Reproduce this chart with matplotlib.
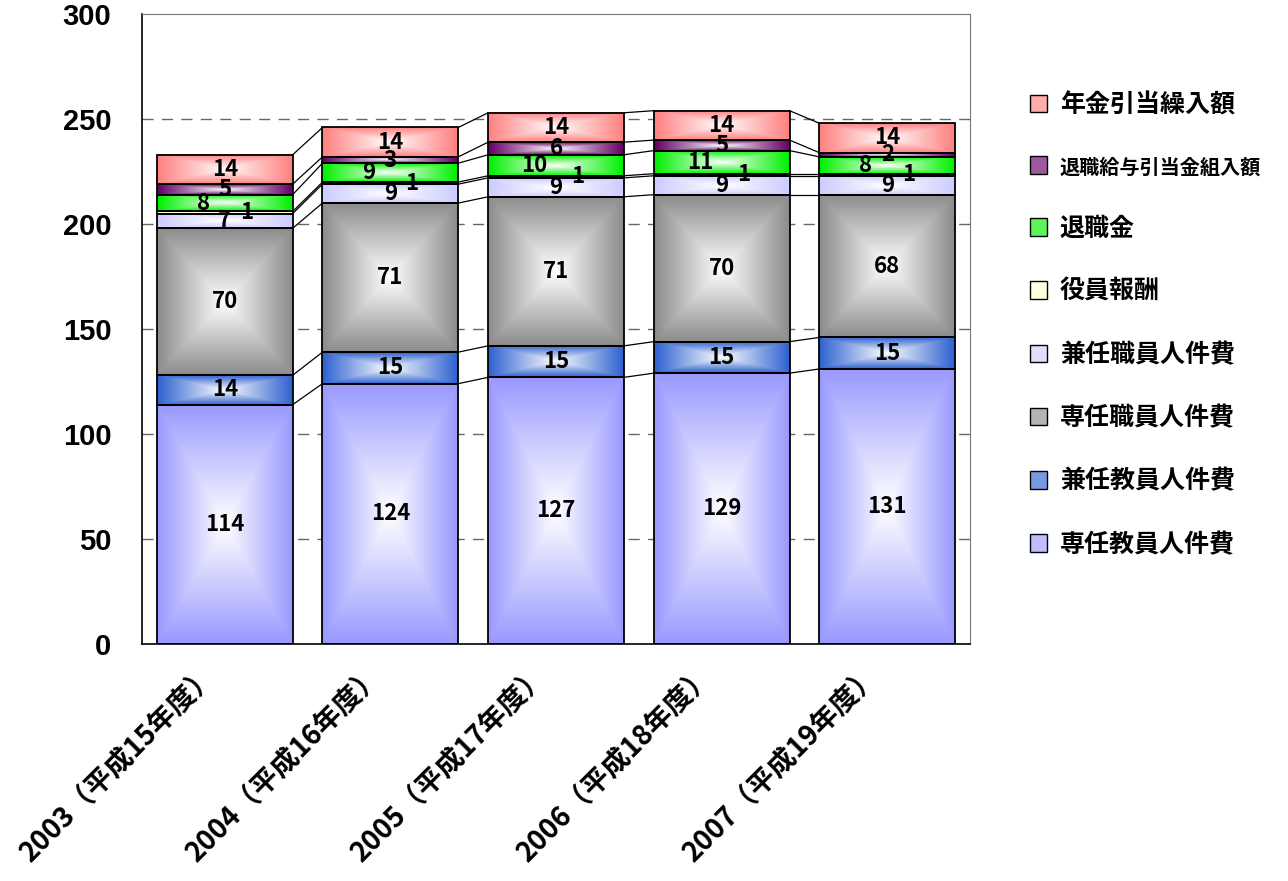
import numpy as np
import matplotlib.pyplot as plt
import matplotlib.transforms as mtransforms
from matplotlib.patches import Patch
from matplotlib.colors import to_rgb

plt.rcParams['font.family'] = ['Noto Sans CJK JP', 'DejaVu Sans']

# Data (values in the chart, bottom to top)
years = ['2003（平成15年度）', '2004（平成16年度）', '2005（平成17年度）',
         '2006（平成18年度）', '2007（平成19年度）']
series = ['専任教員人件費', '兼任教員人件費', '専任職員人件費', '兼任職員人件費',
          '役員報酬', '退職金', '退職給与引当金組入額', '年金引当繰入額']
sennin_kyoin = [114, 124, 127, 129, 131]
kennin_kyoin = [14, 15, 15, 15, 15]
sennin_shokuin = [70, 71, 71, 70, 68]
kennin_shokuin = [7, 9, 9, 9, 9]
yakuin = [1, 1, 1, 1, 1]
taishokukin = [8, 9, 10, 11, 8]
taishoku_hikiate = [5, 3, 6, 5, 2]
nenkin_hikiate = [14, 14, 14, 14, 14]
values = [sennin_kyoin, kennin_kyoin, sennin_shokuin, kennin_shokuin,
          yakuin, taishokukin, taishoku_hikiate, nenkin_hikiate]
colors = ['#9999FF', '#2F62D0', '#8C8C8C', '#CCCCFF',
          '#FFFFCC', '#00F000', '#660066', '#FF8080']
# horizontal label nudges per series (in bar units)
label_dx = [0, 0, 0, 0, 0.13, -0.13, 0, 0]


def gradient(color, n=80):
    # rectangular "from center" gradient: white center -> color at edges
    u = np.linspace(-1, 1, n)
    U, V = np.meshgrid(u, u)
    t = np.maximum(np.abs(U), np.abs(V))[..., None]
    c = np.array(to_rgb(color))
    return (1 - t) * np.ones(3) + t * c


def lighten(color, f=0.35):
    c = np.array(to_rgb(color))
    return tuple(c + (1 - c) * f)


fig = plt.figure(figsize=(12.88, 8.81), dpi=100)
ax = fig.add_axes([0.1102, 0.269, 0.643, 0.715])

x = np.arange(len(years))
width = 0.82
bottom = np.zeros(len(years))
tops = []
for vals, col, dx in zip(values, colors, label_dx):
    vals = np.array(vals, dtype=float)
    img = gradient(col)
    for xi, b, v in zip(x, bottom, vals):
        ax.imshow(img, extent=(xi - width / 2, xi + width / 2, b, b + v),
                  aspect='auto', interpolation='bilinear', zorder=2)
    ax.bar(x, vals, width, bottom=bottom, facecolor='none',
           edgecolor='black', linewidth=1.3, zorder=3)
    for xi, b, v in zip(x, bottom, vals):
        ax.text(xi + dx, b + v / 2, f'{v:.0f}', ha='center', va='center',
                fontsize=16, fontweight='bold', zorder=5)
    bottom = bottom + vals
    tops.append(bottom.copy())

# series lines between bars
for top in tops:
    for i in range(len(x) - 1):
        ax.plot([x[i] + width / 2, x[i + 1] - width / 2], [top[i], top[i + 1]],
                color='black', linewidth=0.9, zorder=4)

ax.set_xlim(-0.5, len(years) - 0.5)
ax.set_ylim(0, 300)
ax.set_yticks(range(0, 301, 50))
ax.set_yticklabels([str(v) for v in range(0, 301, 50)],
                   fontfamily='Liberation Sans', fontsize=21, fontweight='bold')
ax.tick_params(axis='y', length=0, pad=22)
ax.set_xticks(x)
ax.set_xticklabels(years, rotation=45, ha='right', va='top',
                   rotation_mode='anchor', fontsize=20, fontweight='bold')
ax.tick_params(axis='x', length=0, pad=12)
shift = mtransforms.ScaledTranslation(-0.22, 0, fig.dpi_scale_trans)
for lbl in ax.get_xticklabels():
    lbl.set_transform(lbl.get_transform() + shift)

for y in range(50, 300, 50):
    ax.axhline(y, color='#666666', linewidth=1, linestyle=(0, (8, 6)), zorder=1)

ax.spines['left'].set_color('black')
ax.spines['bottom'].set_color('black')
ax.spines['left'].set_linewidth(1.2)
ax.spines['bottom'].set_linewidth(1.2)
ax.spines['top'].set_color('#777777')
ax.spines['right'].set_color('#777777')

handles = [Patch(facecolor=lighten(c), edgecolor='black', linewidth=1)
           for c in colors]
leg = fig.legend(handles[::-1], series[::-1], loc='upper left',
                 bbox_to_anchor=(0.782, 0.92), frameon=False,
                 prop={'size': 18, 'weight': 'bold'},
                 handlelength=0.7, handleheight=0.7, handletextpad=0.5,
                 labelspacing=1.56)
for t in leg.get_texts():
    if t.get_text() == '退職給与引当金組入額':
        t.set_fontsize(14.5)

fig.savefig('out.png', dpi=100)
